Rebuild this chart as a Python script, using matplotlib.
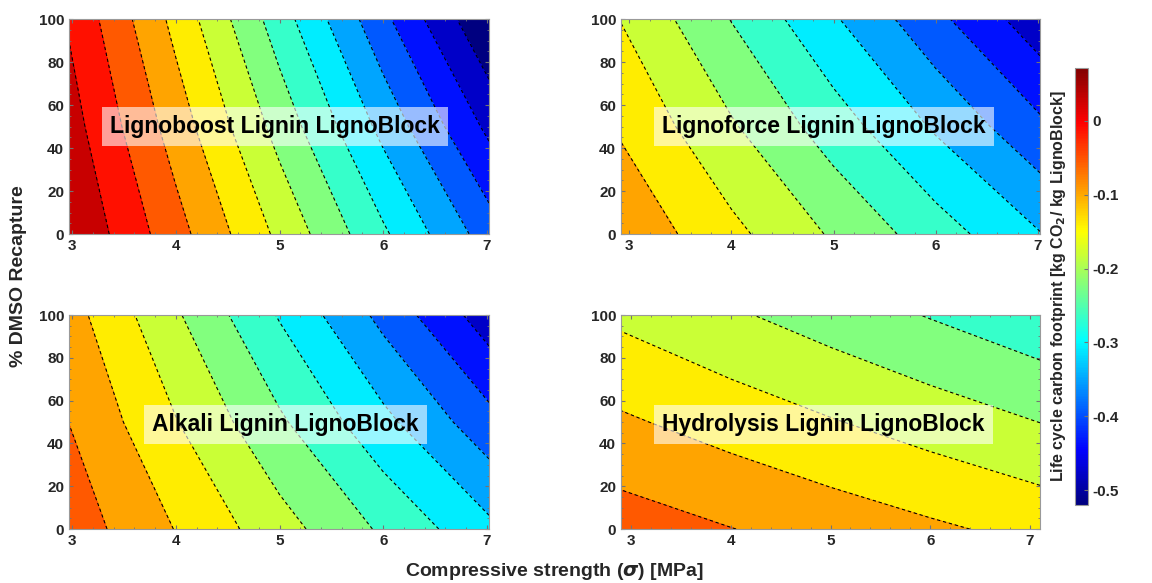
"""
Life cycle carbon footprint of LignoBlocks - 4 contour panels sharing one jet scale
"""

import numpy as np
import matplotlib
matplotlib.use('Agg')
import matplotlib.pyplot as plt
from matplotlib.ticker import MultipleLocator
from matplotlib.colors import Normalize, LinearSegmentedColormap
from matplotlib.cm import ScalarMappable

plt.rcParams['font.family'] = ['Liberation Sans', 'DejaVu Sans']
plt.rcParams['font.weight'] = 'bold'

# DMSO recapture rows (%)
dmso = [0, 50, 100]

# Lignoboost lignin
boost_sigma = [2.97, 4, 5, 6, 7.02]
boost_z = [[0.071, -0.0387, -0.1491, -0.2595, -0.372],
           [0.048, -0.0743, -0.1977, -0.3211, -0.4455],
           [0.025, -0.1099, -0.2463, -0.3827, -0.519]]

# Lignoforce lignin
force_sigma = [2.92, 4, 5, 6, 7.02]
force_z = [[-0.0644, -0.1282, -0.1873, -0.2464, -0.3067],
           [-0.1027, -0.1769, -0.2456, -0.3143, -0.3844],
           [-0.1409, -0.2255, -0.3038, -0.3821, -0.4620]]

# Alkali lignin
alkali_sigma = [2.97, 4, 5, 6, 7.02]
alkali_z = [[-0.0306, -0.0987, -0.1648, -0.2309, -0.2983],
            [-0.0553, -0.1375, -0.2173, -0.2971, -0.3785],
            [-0.0799, -0.1762, -0.2697, -0.3632, -0.4586]]

# Hydrolysis lignin
hydro_sigma = [2.90, 4, 5, 6, 7.10]
hydro_z = [[-0.0340, -0.0539, -0.0719, -0.0900, -0.1099],
           [-0.0911, -0.1149, -0.1366, -0.1583, -0.1822],
           [-0.1481, -0.1759, -0.2012, -0.2265, -0.2544]]

titles = ['Lignoboost Lignin LignoBlock', 'Lignoforce Lignin LignoBlock',
          'Alkali Lignin LignoBlock', 'Hydrolysis Lignin LignoBlock']
x_ticks = [3, 4, 5, 6, 7]
y_ticks = [0, 20, 40, 60, 80, 100]
cbar_ticks = [0, -0.1, -0.2, -0.3, -0.4, -0.5]

# MATLAB's jet (slightly different from matplotlib's)
mjet = LinearSegmentedColormap('mjet', {
    'red':   [(0, 0, 0), (0.375, 0, 0), (0.625, 1, 1), (0.875, 1, 1), (1, 0.5, 0.5)],
    'green': [(0, 0, 0), (0.125, 0, 0), (0.375, 1, 1), (0.625, 1, 1), (0.875, 0, 0), (1, 0, 0)],
    'blue':  [(0, 0.5, 0.5), (0.125, 1, 1), (0.375, 1, 1), (0.625, 0, 0), (1, 0, 0)],
}, N=256)

cmin, cmax = -0.52, 0.072
n_bands = 14
levels = np.linspace(cmin, cmax, n_bands + 1)
# MATLAB-style filling: each band takes the colour of its lower level
band_colors = mjet(np.arange(n_bands) / n_bands)

fig = plt.figure(figsize=(11.52, 5.83), dpi=100)

panels = [
    (boost_sigma, boost_z, [0.0599, 0.5986, 0.3646, 0.3688], (0.49, 0.5)),
    (force_sigma, force_z, [0.5391, 0.5986, 0.3637, 0.3688], (0.485, 0.5)),
    (alkali_sigma, alkali_z, [0.0599, 0.0926, 0.3646, 0.3670], (0.515, 0.49)),
    (hydro_sigma, hydro_z, [0.5391, 0.0926, 0.3637, 0.3670], (0.483, 0.49)),
]

for (sig, z, rect, tpos), title in zip(panels, titles):
    ax = fig.add_axes(rect)
    X, Y = np.meshgrid(sig, dmso)
    Z = np.array(z)
    ax.contourf(X, Y, Z, levels=levels, colors=band_colors)
    ax.contour(X, Y, Z, levels=levels, colors='k', linewidths=0.8,
               linestyles=[(0, (3, 2.5))])
    ax.set_xlim(sig[0], sig[-1])
    ax.set_ylim(0, 100)
    ax.set_xticks(x_ticks)
    ax.set_yticks(y_ticks)
    ax.xaxis.set_minor_locator(MultipleLocator(0.2))
    ax.yaxis.set_minor_locator(MultipleLocator(5))
    ax.tick_params(which='both', direction='in', top=True, right=True,
                   colors='0.45', labelcolor='#262626', labelsize=11)
    ax.tick_params(which='major', length=3)
    ax.tick_params(which='minor', length=1.5)
    for lab in ax.get_xticklabels() + ax.get_yticklabels():
        lab.set_fontweight('bold')
    for sp in ax.spines.values():
        sp.set_color('0.6')
        sp.set_linewidth(0.8)
    ax.text(tpos[0], tpos[1], title, transform=ax.transAxes, ha='center',
            va='center', fontsize=16.5, fontweight='bold', color='black',
            bbox=dict(boxstyle='square,pad=0.35', fc='white', alpha=0.6,
                      ec='none'))

fig.text(0.016, 0.527, '% DMSO Recapture', rotation=90, ha='center',
         va='center', fontsize=14, fontweight='bold', color='#262626')
fig.text(0.481, 0.019, r'Compressive strength ($\sigma$) [MPa]', ha='center',
         va='center', fontsize=14, fontweight='bold', color='#262626')

cax = fig.add_axes([0.933, 0.134, 0.0113, 0.75])
sm = ScalarMappable(norm=Normalize(cmin, cmax), cmap=mjet)
cb = fig.colorbar(sm, cax=cax, ticks=cbar_ticks)
cb.ax.set_yticklabels(['0', '-0.1', '-0.2', '-0.3', '-0.4', '-0.5'])
cb.ax.tick_params(direction='in', length=3, colors='0.45',
                  labelcolor='#262626', labelsize=11)
for lab in cb.ax.get_yticklabels():
    lab.set_fontweight('bold')
cb.outline.set_edgecolor('0.6')
cb.outline.set_linewidth(0.8)
cb.ax.yaxis.set_label_position('left')
cb.set_label(r'Life cycle carbon footprint [kg CO$_2$/ kg LignoBlock]',
             fontsize=11.5, fontweight='bold', color='#262626', labelpad=5)

fig.savefig('out.png', dpi=100)
